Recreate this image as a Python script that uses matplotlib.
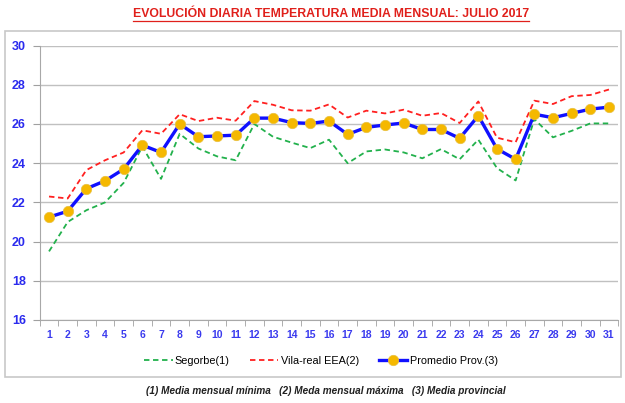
import matplotlib
matplotlib.use("Agg")
import matplotlib.pyplot as plt
from matplotlib.lines import Line2D
from matplotlib.patches import Rectangle
import numpy as np

days = list(range(1, 32))
segorbe = [19.5, 21.0, 21.6, 22.0, 23.0, 24.85, 23.2, 25.5, 24.75, 24.35, 24.15, 26.0, 25.35, 25.05,
           24.77, 25.2, 24.0, 24.6, 24.7, 24.55, 24.25, 24.72, 24.2, 25.2, 23.75, 23.12, 26.25, 25.32,
           25.65, 26.03, 26.03]
vilareal = [22.3, 22.2, 23.65, 24.15, 24.55, 25.68, 25.5, 26.5, 26.15, 26.32, 26.17, 27.17, 26.98, 26.7,
            26.68, 27.0, 26.33, 26.68, 26.54, 26.73, 26.42, 26.56, 26.05, 27.15, 25.3, 25.07, 27.19, 27.02,
            27.42, 27.48, 27.76]
promedio = [21.25, 21.55, 22.7, 23.1, 23.7, 24.92, 24.55, 26.0, 25.35, 25.39, 25.43, 26.3, 26.3, 26.07,
            26.03, 26.15, 25.47, 25.83, 25.95, 26.05, 25.72, 25.72, 25.27, 26.42, 24.73, 24.2, 26.5, 26.32,
            26.54, 26.76, 26.86]
labels = ["Segorbe(1)", "Vila-real EEA(2)", "Promedio Prov.(3)"]
title = "EVOLUCIÓN DIARIA TEMPERATURA MEDIA MENSUAL: JULIO 2017"
footnote = "(1) Media mensual mínima   (2) Meda mensual máxima   (3) Media provincial"

plt.rcParams['font.family'] = ['Liberation Sans', 'DejaVu Sans']

fig = plt.figure(figsize=(6.25, 4.03), dpi=100)
W, H = 625, 403

# outer chart box
fig.patches.append(Rectangle((5 / W, 1 - 377 / H), 616 / W, (377 - 31) / H, transform=fig.transFigure,
                             fill=False, edgecolor='#c8c8c8', linewidth=1.2))

ax = fig.add_axes([39.7 / W, 1 - 320 / H, (618.3 - 39.7) / W, (320 - 45.6) / H])
ax.plot(days, segorbe, color='#22b14c', linestyle=(0, (3, 2)), linewidth=1.3, label=labels[0])
ax.plot(days, vilareal, color='#ff2020', linestyle=(0, (3, 2)), linewidth=1.3, label=labels[1])
ax.plot(days, promedio, color='#1010ff', linewidth=2.4, marker='o', markersize=7.5,
        markerfacecolor='#f5b800', markeredgecolor='#e8c040', markeredgewidth=0.5, label=labels[2])

ax.set_xlim(0.5, 31.5)
ax.set_ylim(16, 30)
ax.set_yticks(np.arange(16, 31, 2))
ax.set_xticks(days)
ax.set_xticks(np.arange(0.5, 32, 1), minor=True)
ax.tick_params(axis='x', which='major', length=0, pad=7)
ax.tick_params(axis='x', which='minor', length=4, color='#a0a0a0', direction='out')
ax.tick_params(axis='y', length=5, color='#a0a0a0', direction='out', pad=5)
for t in ax.get_xticklabels():
    t.set_color('#3a3aee')
    t.set_fontweight('bold')
    t.set_fontsize(7.5)
for t in ax.get_yticklabels():
    t.set_color('#2a2aee')
    t.set_fontweight('bold')
    t.set_fontsize(9)
ax.grid(axis='y', color='#c0c0c0', linewidth=1.0)
ax.set_axisbelow(True)
for s in ['top', 'right']:
    ax.spines[s].set_visible(False)
ax.spines['left'].set_color('#a8a8a8')
ax.spines['bottom'].set_color('#a8a8a8')

leg = fig.legend(loc='center', bbox_to_anchor=(321 / W, 1 - 361 / H), ncol=3, frameon=False,
                 fontsize=7.8, handlelength=2.6, columnspacing=1.9, handletextpad=0.2)

t = fig.text(331 / W, 1 - 14 / H, title, ha='center', va='center', color='#e0201b',
             fontsize=8.8, fontweight='bold')
fig.canvas.draw()
bb = t.get_window_extent()
fig.add_artist(Line2D([bb.x0 / W, bb.x1 / W], [(bb.y0 - 1) / H, (bb.y0 - 1) / H],
                      transform=fig.transFigure, color='#e0201b', linewidth=0.9))

fig.text(326 / W, 1 - 391 / H, footnote, ha='center', va='center', color='#202020',
         fontsize=7.2, style='italic', fontweight='bold')

fig.savefig('out.png', dpi=100)
